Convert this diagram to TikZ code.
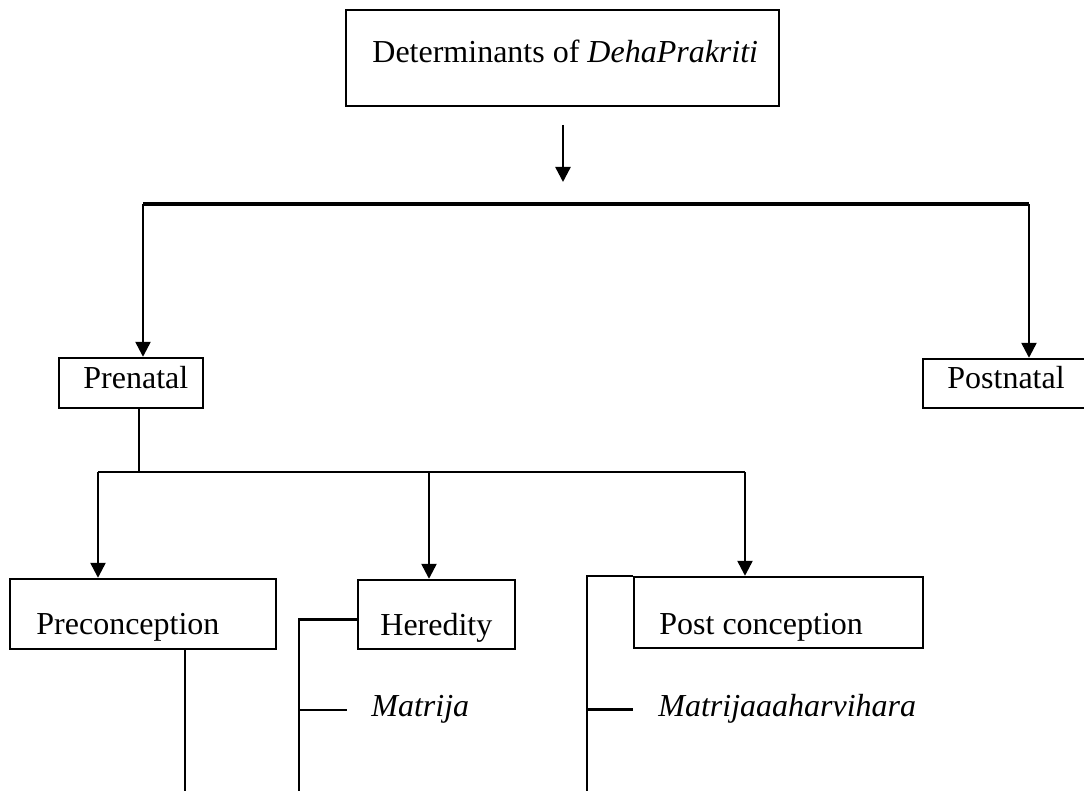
\documentclass[tikz,border=0pt]{standalone}
\usepackage{fontspec}
\setmainfont{Liberation Serif}
\usetikzlibrary{arrows.meta, positioning, calc}

\begin{document}
\begin{tikzpicture}[x=0.5pt, y=-0.5pt,
    box/.style={draw, line width=1.2pt, inner sep=0pt},
    lab/.style={anchor=base west, inner sep=0pt, font=\fontsize{16}{19}\selectfont},
    conn/.style={line width=1.2pt},
    arr/.style={line width=1.2pt, -{Triangle[length=7.5pt, width=7.5pt]}}]
    \useasboundingbox (0,0) rectangle (1084,791);
    \node[box, minimum width=216.5pt, minimum height=48pt] (root)    at (562.5,58)  {};
    \node[box, minimum width=72pt,    minimum height=25pt] (pre)     at (131,383)   {};
    \node[box, minimum width=90pt,    minimum height=24.5pt] (post)  at (1013,383.5) {};
    \node[box, minimum width=133pt,   minimum height=35pt] (precon)  at (143,614)   {};
    \node[box, minimum width=78.5pt,  minimum height=34.5pt] (hered) at (436.5,614.5) {};
    \node[box, minimum width=144.5pt, minimum height=35.5pt] (postcon) at (778.5,612.5) {};
    \node[lab] (rootlab)    at (372,63)  {Determinants of \textit{DehaPrakriti}};
    \node[lab] (prelab)     at (83,389)  {Prenatal};
    \node[lab] (postlab)    at (947,389) {Postnatal};
    \node[lab] (preconlab)  at (36,635)  {Preconception};
    \node[lab] (heredlab)   at (380,636) {Heredity};
    \node[lab] (postconlab) at (659,635) {Post conception};
    \node[lab] (mat)        at (371,717) {\textit{Matrija}};
    \node[lab] (mah)        at (658,717) {\textit{Matrijaaaharvihara}};

    \coordinate (drop) at (563,125);
    \coordinate (dropend) at (563,182);
    \draw[arr] (drop) -- (dropend);
    \coordinate (barL) at (143,204);
    \coordinate (barR) at (1029,204);
    \draw[line width=1.8pt] (barL) -- (barR);
    \draw[arr] (barL) -- (barL |- pre.north);
    \draw[arr] (barR) -- (barR |- post.north);
    \coordinate (split) at (139,472);
    \coordinate (subL) at (98,472);
    \coordinate (subR) at (745,472);
    \draw[conn] (split |- pre.south) -- (split);
    \draw[conn] (subL) -- (subR);
    \foreach \n/\x in {precon/98, hered/429, postcon/745}{%
      \coordinate (tmp) at (\x,472);
      \draw[arr] (tmp) -- (tmp |- \n.north);
    }
    \coordinate (cfoot) at (185,800);
    \coordinate (hfoot) at (299,800);
    \coordinate (pfoot) at (587,800);
    \draw[conn] (cfoot |- precon.south) -- (cfoot);
    \draw[conn] ([yshift=-2.5pt]hered.west) -- ([yshift=-2.5pt]hered.west -| hfoot) -- (hfoot);
    \draw[conn] (mat.west -| hfoot) -- ([xshift=-12pt]mat.west);
    \draw[conn] (postcon.north west) -- (postcon.north west -| pfoot) -- (pfoot);
    \draw[conn] (mah.west -| pfoot) -- (mah.west -| postcon.west);
\end{tikzpicture}
\end{document}
